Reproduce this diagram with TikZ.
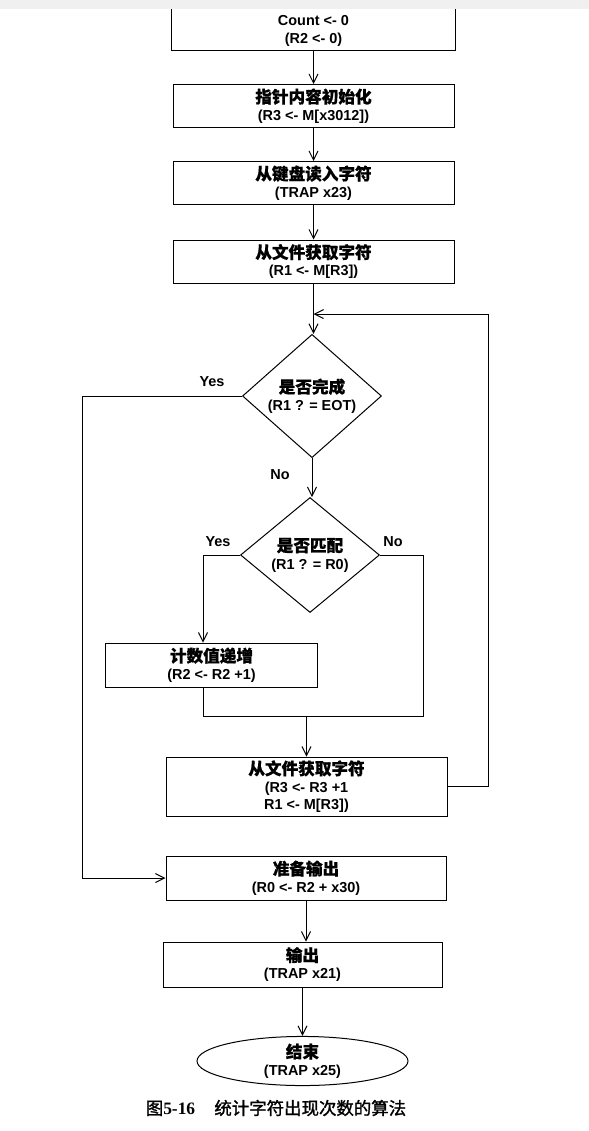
\documentclass[tikz,border=0pt]{standalone}
\usepackage{fontspec}
\setmainfont{Liberation Sans}
\newfontfamily\cjk[Scale=1.15,FakeBold=0.7]{Noto Sans CJK SC}
\newfontfamily\capfont[FakeBold=1.5]{Noto Sans CJK SC}
\newfontfamily\capnum{Liberation Serif}
\usetikzlibrary{calc,shapes.geometric,arrows.meta}

\begin{document}
\begin{tikzpicture}[x=1bp,y=-1bp,
  font=\bfseries\fontsize{14.5}{17.5}\selectfont, line width=1bp,
  box/.style={draw, minimum width=281bp, minimum height=43bp, align=center, inner sep=0pt},
  decide/.style={diamond, draw, minimum width=139bp, minimum height=115bp, align=center, inner sep=0pt},
  arr/.style={-{Straight Barb[length=9bp,width=9bp]}}]
  \useasboundingbox (0,0) rectangle (589,1131);
  \fill[black!6] (0,0) rectangle (589,9);
  \coordinate (top) at (0,9);

  %% first box, cut off at the top edge
  \node[minimum width=283bp, minimum height=38bp, align=center, inner sep=0pt] (cnt) at (313.5,31) {Count <- 0\\(R2 <- 0)};
  \draw (top -| cnt.west) -- (cnt.south west) -- (cnt.south east) -- (top -| cnt.east);

  %% steps of the flow
  \node[box] (init)  at (313.5,106)   {{\cjk 指针内容初始化}\\(R3 <- M[x3012])};
  \node[box] (read)  at (313.5,183)   {{\cjk 从键盘读入字符}\\(TRAP x23)};
  \node[box] (fetch) at (313.5,261.5) {{\cjk 从文件获取字符}\\(R1 <- M[R3])};
  \node[decide] (done)  at (312,396) {{\cjk 是否完成}\\(R1 ? = EOT)};
  \node[decide] (match) at (310,555) {{\cjk 是否匹配}\\(R1 ? = R0)};
  \node[box, minimum width=211bp, minimum height=44bp] (incr) at (211.5,665) {{\cjk 计数值递增}\\(R2 <- R2 +1)};
  \node[box, minimum height=59bp] (next) at (306.5,786.5) {{\cjk 从文件获取字符}\\(R3 <- R3 +1\\R1 <- M[R3])};
  \node[box, minimum width=280bp, minimum height=44bp] (prep) at (306,878) {{\cjk 准备输出}\\(R0 <- R2 + x30)};
  \node[box, minimum width=279bp, minimum height=45bp] (out) at (302.5,964.5) {{\cjk 输出}\\(TRAP x21)};
  \node[ellipse, draw, minimum width=211bp, minimum height=48bp, align=center, inner sep=0pt] (end) at (302.5,1061) {{\cjk 结束}\\(TRAP x25)};

  %% branch labels
  \node (yes1) at (212,382) {Yes};
  \node (no1)  at (280,475) {No};
  \node (yes2) at (218,542) {Yes};
  \node (no2)  at (393,542) {No};

  %% straight arrows down
  \foreach \a/\b in {cnt/init,init/read,read/fetch,fetch/done,done/match,prep/out,out/end}
    \draw[arr] (\a.south) -- (\a.south |- \b.north);

  %% branches and loop
  \coordinate (loop) at (488,314);
  \coordinate (yesl) at (82,396);
  \coordinate (yesm) at (203,555);
  \coordinate (nom)  at (423,716);
  \draw[arr] (next.east) -| (loop) -- (loop -| fetch.south);
  \draw[arr] (done.west) -| (yesl |- prep.west) -- (prep.west);
  \draw[arr] (match.west) -| (yesm |- incr.north);
  \draw (match.east) -| (nom) -- (nom -| yesm) -- (yesm |- incr.south);
  \draw[arr] (nom -| next.north) -- (next.north);

  \node[font=\capfont\fontsize{17.5}{19}\selectfont] (cap) at (276,1108) {图{\capnum\bfseries 5-16}\hspace{1.1em}统计字符出现次数的算法};
\end{tikzpicture}
\end{document}
